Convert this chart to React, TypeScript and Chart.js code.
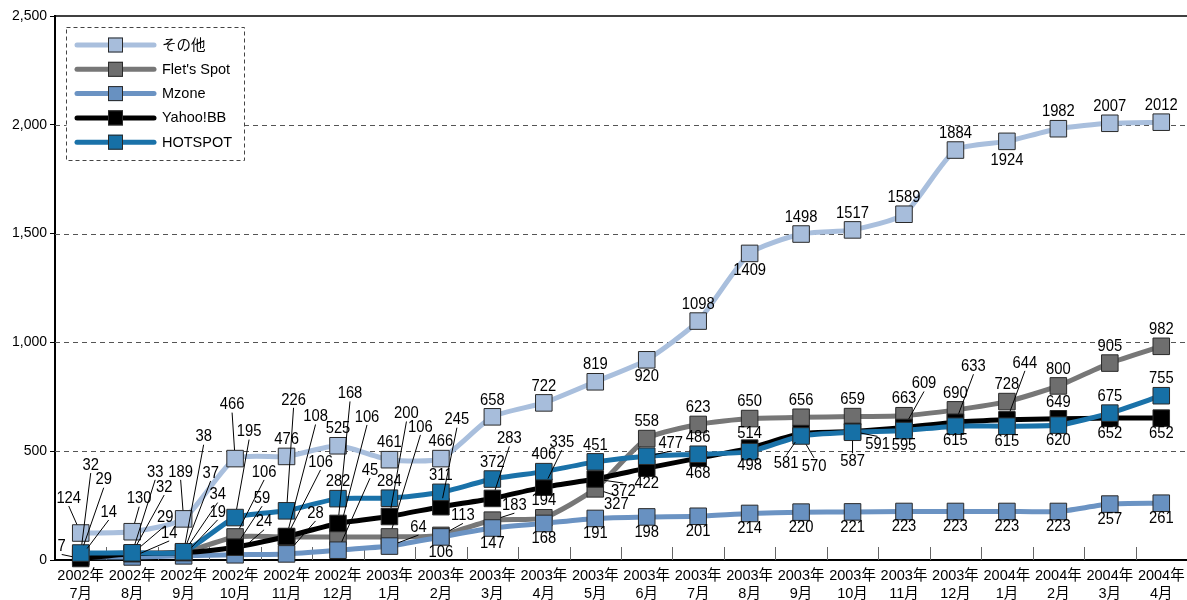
import React, { useEffect, useRef } from 'react';
import { Chart, registerables } from 'chart.js';

Chart.register(...registerables);

// ---------- data ----------
const years = [
  '2002年', '2002年', '2002年', '2002年', '2002年', '2002年',
  '2003年', '2003年', '2003年', '2003年', '2003年', '2003年',
  '2003年', '2003年', '2003年', '2003年', '2003年', '2003年',
  '2004年', '2004年', '2004年', '2004年',
];
const months = [
  '7月', '8月', '9月', '10月', '11月', '12月',
  '1月', '2月', '3月', '4月', '5月', '6月',
  '7月', '8月', '9月', '10月', '11月', '12月',
  '1月', '2月', '3月', '4月',
];
const yTicks = [0, 500, 1000, 1500, 2000, 2500];

const seriesNames = ['その他', "Flet's Spot", 'Mzone', 'Yahoo!BB', 'HOTSPOT'];
const sonota = [124, 130, 189, 466, 476, 525, 461, 466, 658, 722, 819, 920, 1098, 1409, 1498, 1517, 1589, 1884, 1924, 1982, 2007, 2012];
const flets = [29, 32, 37, 106, 106, 106, 106, 113, 183, 194, 327, 558, 623, 650, 656, 659, 663, 690, 728, 800, 905, 982];
const mzone = [14, 14, 19, 24, 28, 45, 64, 106, 147, 168, 191, 198, 201, 214, 220, 221, 223, 223, 223, 223, 257, 261];
const yahoo = [7, 29, 34, 59, 108, 168, 200, 245, 283, 335, 372, 422, 468, 514, 581, 591, 609, 633, 644, 649, 652, 652];
const hotspot = [32, 33, 38, 195, 226, 282, 284, 311, 372, 406, 451, 477, 486, 498, 570, 587, 595, 615, 615, 620, 675, 755];

// ---------- styles ----------
const FONT = '"Liberation Sans", "Noto Sans CJK JP", sans-serif';
const lineColors = ['#a9bfdd', '#777777', '#6b93c3', '#000000', '#1a72a9'];
const fillColors = ['#a7bddb', '#6e6e6e', '#6891c1', '#000000', '#1670a6'];
const drawOrder = [4, 3, 2, 1, 0];

// label placement (offsets of label centre from the point, in px)
type Place = { side: 'above' | 'below'; off: Record<number, [number, number]> };
const placements: Place[] = [
  { side: 'above', off: { 0: [-12, -35], 1: [7, -33], 2: [-3, -47], 3: [-3, -54], 11: [0, 17], 13: [0, 17], 18: [0, 19] } },
  { side: 'above', off: { 0: [23, -74], 1: [32, -66], 2: [27, -79], 3: [29, -65], 4: [34, -75], 5: [29, -120], 6: [31, -110], 7: [22, -20], 8: [22, -15], 10: [21, 15] } },
  { side: 'below', off: { 0: [28, -45], 1: [37, -24], 2: [34, -44], 3: [29, -33], 4: [29, -41], 5: [32, -80], 6: [29, -19] } },
  { side: 'below', off: { 0: [-19, -12], 1: [33, -36], 2: [34, -58], 3: [27, -49], 4: [29, -120], 5: [12, -130], 6: [17, -103], 7: [16, -87], 8: [17, -60], 9: [18, -45], 10: [28, 12], 13: [0, -15], 14: [-15, 30], 15: [25, 13], 16: [20, -44], 17: [18, -56], 18: [18, -57], 19: [0, -16] } },
  { side: 'above', off: { 0: [10, -88], 1: [23, -81], 2: [20, -115], 3: [14, -86], 4: [7, -111], 11: [24, -13], 13: [0, 14], 14: [13, 30], 15: [0, 29], 16: [0, 15], 17: [0, 14], 18: [0, 15], 19: [0, 15] } },
];

const decorPlugin = {
  id: 'decor',
  beforeDatasetsDraw(chart: any) {
    const { ctx, chartArea } = chart;
    const y = chart.scales.y;
    const x = chart.scales.x;
    ctx.save();
    // dashed grid lines
    ctx.strokeStyle = '#555';
    ctx.lineWidth = 1;
    ctx.setLineDash([5, 4]);
    yTicks.forEach((v) => {
      if (v === 0 || v === 2500) return;
      const py = Math.round(y.getPixelForValue(v)) + 0.5;
      ctx.beginPath();
      ctx.moveTo(chartArea.left, py);
      ctx.lineTo(chartArea.right, py);
      ctx.stroke();
    });
    ctx.setLineDash([]);
    // top border
    ctx.strokeStyle = '#000';
    ctx.lineWidth = 1.5;
    const ty = y.getPixelForValue(2500);
    ctx.beginPath();
    ctx.moveTo(chartArea.left, ty);
    ctx.lineTo(chartArea.right, ty);
    ctx.stroke();
    // inner category ticks
    ctx.strokeStyle = '#666';
    ctx.lineWidth = 1;
    const n = years.length;
    const half = (x.getPixelForValue(1) - x.getPixelForValue(0)) / 2;
    for (let i = 1; i < n; i++) {
      const px = Math.round(x.getPixelForValue(i) - half) + 0.5;
      ctx.beginPath();
      ctx.moveTo(px, chartArea.bottom - 13);
      ctx.lineTo(px, chartArea.bottom);
      ctx.stroke();
    }
    ctx.restore();
  },
  afterDatasetsDraw(chart: any) {
    const { ctx } = chart;
    ctx.save();
    const h = 8.5;
    placements.forEach((pl, di) => {
      const meta = chart.getDatasetMeta(di);
      const values = chart.data.datasets[di].data as number[];
      meta.data.forEach((pt: any, i: number) => {
        const o = pl.off[i] ?? (pl.side === 'above' ? [0, -17] : [0, 15]);
        const lx = pt.x + o[0];
        const ly = pt.y + o[1];
        const leader = Math.abs(o[0]) >= 6 || Math.abs(o[1]) >= 24;
        if (leader) {
          const ax = lx;
          const ay = o[1] < 0 ? ly + 8 : ly - 8;
          const vx = ax - pt.x;
          const vy = ay - pt.y;
          const s = Math.min(vx === 0 ? Infinity : h / Math.abs(vx), vy === 0 ? Infinity : h / Math.abs(vy));
          if (s < 1) {
            ctx.strokeStyle = '#000';
            ctx.lineWidth = 1;
            ctx.beginPath();
            ctx.moveTo(ax, ay);
            ctx.lineTo(pt.x + vx * s, pt.y + vy * s);
            ctx.stroke();
          }
        }
        ctx.save();
        ctx.translate(lx, ly);
        ctx.scale(0.87, 1);
        ctx.font = '17px ' + FONT;
        ctx.fillStyle = '#000';
        ctx.textAlign = 'center';
        ctx.textBaseline = 'middle';
        ctx.fillText(String(values[i]), 0, 0);
        ctx.restore();
      });
    });
    ctx.restore();
  },
  afterDraw(chart: any) {
    const { ctx } = chart;
    ctx.save();
    const bx = 66.5, by = 27.5, bw = 178, bh = 133;
    ctx.fillStyle = '#fff';
    ctx.fillRect(bx, by, bw, bh);
    ctx.strokeStyle = '#444';
    ctx.lineWidth = 1;
    ctx.setLineDash([4, 3]);
    ctx.strokeRect(bx, by, bw, bh);
    ctx.setLineDash([]);
    seriesNames.forEach((name, i) => {
      const cy = 45 + i * 24.3;
      ctx.strokeStyle = lineColors[i];
      ctx.lineWidth = 5;
      ctx.lineCap = 'round';
      ctx.beginPath();
      ctx.moveTo(77, cy);
      ctx.lineTo(154, cy);
      ctx.stroke();
      ctx.fillStyle = fillColors[i];
      ctx.fillRect(108, cy - 7.5, 15, 15);
      ctx.strokeStyle = '#2a2a2a';
      ctx.lineWidth = 1;
      ctx.strokeRect(108.5, cy - 7, 14, 14);
      ctx.fillStyle = '#000';
      ctx.font = '14.5px ' + FONT;
      ctx.textAlign = 'left';
      ctx.textBaseline = 'middle';
      ctx.fillText(name, 162, cy + 0.5);
    });
    ctx.restore();
  },
};

export default function App() {
  const ref = useRef<HTMLCanvasElement>(null);
  useEffect(() => {
    document.body.style.margin = '0';
    const canvas = ref.current!;
    Chart.defaults.font.family = FONT;
    const allSeries = [sonota, flets, mzone, yahoo, hotspot];
    const chart = new Chart(canvas, {
      type: 'line',
      data: {
        labels: years.map((y, i) => [y, months[i]]),
        datasets: allSeries.map((d, i) => ({
          label: seriesNames[i],
          data: d,
          order: drawOrder[i],
          borderColor: lineColors[i],
          backgroundColor: fillColors[i],
          borderWidth: 5,
          borderJoinStyle: 'round' as const,
          borderCapStyle: 'round' as const,
          tension: 0.2,
          pointStyle: 'rect' as const,
          pointRadius: 11.7,
          pointBorderColor: '#2a2a2a',
          pointBorderWidth: 1,
          pointBackgroundColor: fillColors[i],
          clip: false as any,
        })),
      },
      options: {
        responsive: false,
        devicePixelRatio: 1,
        animation: false,
        layout: { autoPadding: false, padding: { top: 16, left: 0, right: 0, bottom: 0 } },
        plugins: { legend: { display: false }, tooltip: { enabled: false } },
        scales: {
          x: {
            offset: true,
            ticks: { color: '#000', font: { size: 14.5, lineHeight: 1.25 }, maxRotation: 0, autoSkip: false, padding: 7 },
            grid: { display: false, drawTicks: false },
            border: { display: true, color: '#000', width: 2 },
            afterFit: (s: any) => { s.height = 40; s.paddingRight = 0; s.paddingLeft = 0; },
          },
          y: {
            min: 0,
            max: 2500,
            ticks: {
              stepSize: 500,
              color: '#000',
              font: { size: 14 },
              padding: 3,
              callback: (v: any) => Number(v).toLocaleString('en-US'),
            },
            grid: { display: true, drawOnChartArea: false, drawTicks: true, tickLength: 5, color: '#000', lineWidth: 1 },
            border: { display: true, color: '#000', width: 2 },
            afterFit: (s: any) => { s.width = 55; },
          },
        },
      },
      plugins: [decorPlugin],
    });
    return () => chart.destroy();
  }, []);
  return (
    <div style={{ width: 1187, height: 600, position: 'relative' }}>
      <canvas ref={ref} width={1187} height={600} style={{ display: 'block' }} />
    </div>
  );
}
